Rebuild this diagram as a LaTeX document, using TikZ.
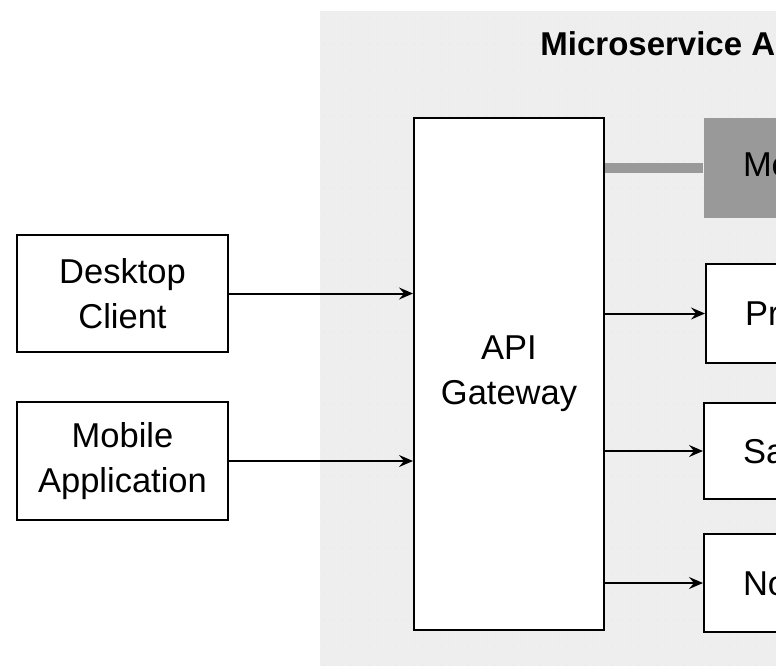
\documentclass[tikz,border=0pt]{standalone}
\usepackage{fontspec}
\setmainfont{Liberation Sans}
\usetikzlibrary{arrows.meta, patterns.meta, positioning}

\definecolor{bggray}{HTML}{EEEEEE}
\definecolor{dotgray}{HTML}{E3E3E3}
\definecolor{brokergray}{HTML}{999999}

\tikzset{
  box/.style={draw=black, line width=1pt, fill=white, align=center, inner sep=0pt,
    font=\fontsize{17.25}{22.5}\selectfont},
  svcbox/.style={box, anchor=west, align=left, text width=180pt, inner xsep=19.5pt,
    minimum height=#1},
  link/.style={-{Stealth[length=7pt, width=6pt, inset=2.5pt]}, line width=1pt},
  busline/.style={draw=brokergray, line width=4.7pt},
}

\begin{document}
\begin{tikzpicture}[x=0.5pt, y=-0.5pt]

\useasboundingbox (0, 0) rectangle (776, 665);
\clip (0, 0) rectangle (776, 665);

% system boundary with its dotted fill
\fill[bggray] (320, 11) rectangle (800, 700);
\fill[pattern={Dots[distance=4.5pt, radius=0.3pt]}, pattern color=dotgray] (320, 11) rectangle (800, 700);

\node[anchor=base west, inner sep=0pt, font=\bfseries\fontsize{16.5}{20}\selectfont] (title) at (540, 55) {Microservice Architecture};

% clients
\node[box, minimum width=105.5pt, minimum height=58.5pt] (desktop) at (122.5, 293.5) {Desktop\\Client};
\node[box, minimum width=105.5pt, minimum height=59pt] (mobile) at (122.5, 461) {Mobile\\Application};

\node[box, minimum width=95pt, minimum height=256pt] (api) at (509, 374) {API\\Gateway};

% services behind the gateway
\node[svcbox=50pt, draw=none, fill=brokergray] (broker) at (703, 168) {Message Broker};
\node[svcbox=49.5pt] (product) at (705, 313.5) {Product Service};
\node[svcbox=48pt] (sales) at (703, 451) {Sales Service};
\node[svcbox=49pt] (notify) at (703, 583) {Notification Service};

\draw[link] (desktop) -- (api.west |- desktop);
\draw[link] (mobile) -- (api.west |- mobile);

\draw[busline] (api.east |- broker) -- (broker);
\draw[link] (api.east |- product) -- (product);
\draw[link] (api.east |- sales) -- (sales);
\draw[link] (api.east |- notify) -- (notify);

\end{tikzpicture}
\end{document}
